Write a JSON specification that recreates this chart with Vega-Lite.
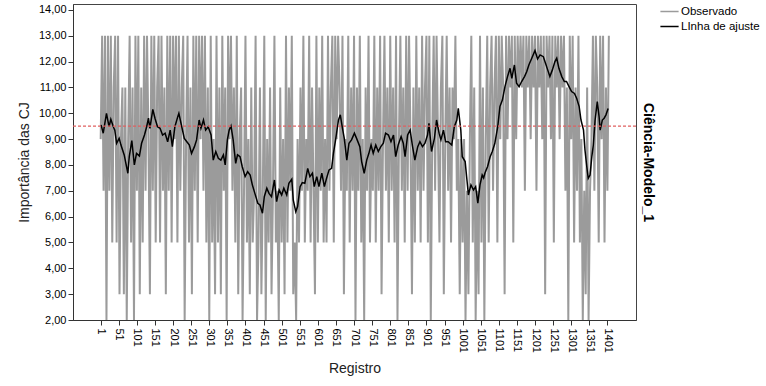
{
  "$schema": "https://vega.github.io/schema/vega-lite/v6.json",
  "width": 563,
  "height": 316,
  "autosize": {"type": "none"},
  "padding": {"left": 73, "top": 4, "right": 130, "bottom": 66},
  "background": "white",
  "config": {
    "font": "Liberation Sans",
    "view": {"stroke": "#444444", "strokeWidth": 1},
    "axis": {"labelFont": "Liberation Sans", "labelFontSize": 11, "labelColor": "#000000", "tickColor": "#333333", "domainColor": "#333333", "tickSize": 5, "grid": false, "labelOverlap": false, "titleFont": "Liberation Sans", "titleFontWeight": "normal", "titleFontSize": 14, "titleColor": "#222222"},
    "legend": {"labelFont": "Liberation Sans", "labelFontSize": 11.5, "labelColor": "#000000"}
  },
  "datasets": {
    "obs": [
      {"r":1,"v":9},{"r":5,"v":13},{"r":9,"v":7},{"r":13,"v":13},{"r":17,"v":2},{"r":21,"v":13},{"r":25,"v":7},{"r":29,"v":13},{"r":33,"v":5},{"r":37,"v":11},
      {"r":41,"v":13},{"r":45,"v":5},{"r":49,"v":13},{"r":53,"v":3},{"r":57,"v":9},{"r":61,"v":11},{"r":65,"v":3},{"r":69,"v":11},{"r":73,"v":2},{"r":77,"v":9},
      {"r":81,"v":13},{"r":85,"v":5},{"r":89,"v":11},{"r":93,"v":2},{"r":97,"v":13},{"r":101,"v":7},{"r":105,"v":13},{"r":109,"v":3},{"r":113,"v":11},{"r":117,"v":5},
      {"r":121,"v":13},{"r":125,"v":7},{"r":129,"v":13},{"r":133,"v":9},{"r":137,"v":3},{"r":141,"v":13},{"r":145,"v":7},{"r":149,"v":13},{"r":153,"v":5},{"r":157,"v":11},
      {"r":161,"v":13},{"r":165,"v":5},{"r":169,"v":13},{"r":173,"v":7},{"r":177,"v":11},{"r":181,"v":3},{"r":185,"v":13},{"r":189,"v":7},{"r":193,"v":13},{"r":197,"v":5},
      {"r":201,"v":13},{"r":205,"v":9},{"r":209,"v":13},{"r":213,"v":5},{"r":217,"v":13},{"r":221,"v":7},{"r":225,"v":11},{"r":229,"v":13},{"r":233,"v":2},{"r":237,"v":9},
      {"r":241,"v":13},{"r":245,"v":5},{"r":249,"v":11},{"r":253,"v":3},{"r":257,"v":13},{"r":261,"v":7},{"r":265,"v":13},{"r":269,"v":5},{"r":273,"v":13},{"r":277,"v":9},
      {"r":281,"v":13},{"r":285,"v":7},{"r":289,"v":13},{"r":293,"v":5},{"r":297,"v":11},{"r":301,"v":2},{"r":305,"v":13},{"r":309,"v":5},{"r":313,"v":9},{"r":317,"v":3},
      {"r":321,"v":13},{"r":325,"v":5},{"r":329,"v":11},{"r":333,"v":3},{"r":337,"v":13},{"r":341,"v":7},{"r":345,"v":11},{"r":349,"v":2},{"r":353,"v":13},{"r":357,"v":9},
      {"r":361,"v":13},{"r":365,"v":7},{"r":369,"v":11},{"r":373,"v":5},{"r":377,"v":13},{"r":381,"v":3},{"r":385,"v":9},{"r":389,"v":11},{"r":393,"v":2},{"r":397,"v":7},
      {"r":401,"v":13},{"r":405,"v":5},{"r":409,"v":9},{"r":413,"v":3},{"r":417,"v":11},{"r":421,"v":5},{"r":425,"v":7},{"r":429,"v":13},{"r":433,"v":2},{"r":437,"v":5},
      {"r":441,"v":11},{"r":445,"v":3},{"r":449,"v":7},{"r":453,"v":13},{"r":457,"v":2},{"r":461,"v":9},{"r":465,"v":5},{"r":469,"v":11},{"r":473,"v":3},{"r":477,"v":7},
      {"r":481,"v":13},{"r":485,"v":5},{"r":489,"v":7},{"r":493,"v":2},{"r":497,"v":11},{"r":501,"v":5},{"r":505,"v":9},{"r":509,"v":3},{"r":513,"v":13},{"r":517,"v":5},
      {"r":521,"v":11},{"r":525,"v":7},{"r":529,"v":13},{"r":533,"v":3},{"r":537,"v":5},{"r":541,"v":2},{"r":545,"v":9},{"r":549,"v":5},{"r":553,"v":11},{"r":557,"v":7},
      {"r":561,"v":13},{"r":565,"v":5},{"r":569,"v":9},{"r":573,"v":7},{"r":577,"v":13},{"r":581,"v":5},{"r":585,"v":11},{"r":589,"v":7},{"r":593,"v":3},{"r":597,"v":13},
      {"r":601,"v":5},{"r":605,"v":11},{"r":609,"v":7},{"r":613,"v":13},{"r":617,"v":5},{"r":621,"v":9},{"r":625,"v":5},{"r":629,"v":13},{"r":633,"v":7},{"r":637,"v":11},
      {"r":641,"v":13},{"r":645,"v":5},{"r":649,"v":13},{"r":653,"v":9},{"r":657,"v":13},{"r":661,"v":11},{"r":665,"v":7},{"r":669,"v":13},{"r":673,"v":3},{"r":677,"v":9},
      {"r":681,"v":7},{"r":685,"v":13},{"r":689,"v":5},{"r":693,"v":11},{"r":697,"v":7},{"r":701,"v":13},{"r":705,"v":2},{"r":709,"v":11},{"r":713,"v":7},{"r":717,"v":13},
      {"r":721,"v":5},{"r":725,"v":9},{"r":729,"v":2},{"r":733,"v":11},{"r":737,"v":7},{"r":741,"v":13},{"r":745,"v":5},{"r":749,"v":9},{"r":753,"v":7},{"r":757,"v":13},
      {"r":761,"v":5},{"r":765,"v":11},{"r":769,"v":7},{"r":773,"v":13},{"r":777,"v":3},{"r":781,"v":9},{"r":785,"v":13},{"r":789,"v":7},{"r":793,"v":11},{"r":797,"v":5},
      {"r":801,"v":13},{"r":805,"v":7},{"r":809,"v":11},{"r":813,"v":5},{"r":817,"v":13},{"r":821,"v":2},{"r":825,"v":9},{"r":829,"v":13},{"r":833,"v":7},{"r":837,"v":11},
      {"r":841,"v":5},{"r":845,"v":13},{"r":849,"v":7},{"r":853,"v":13},{"r":857,"v":9},{"r":861,"v":3},{"r":865,"v":11},{"r":869,"v":5},{"r":873,"v":13},{"r":877,"v":7},
      {"r":881,"v":11},{"r":885,"v":5},{"r":889,"v":13},{"r":893,"v":7},{"r":897,"v":11},{"r":901,"v":13},{"r":905,"v":5},{"r":909,"v":13},{"r":913,"v":2},{"r":917,"v":9},
      {"r":921,"v":13},{"r":925,"v":7},{"r":929,"v":13},{"r":933,"v":9},{"r":937,"v":5},{"r":941,"v":11},{"r":945,"v":13},{"r":949,"v":3},{"r":953,"v":9},{"r":957,"v":13},
      {"r":961,"v":7},{"r":965,"v":11},{"r":969,"v":5},{"r":973,"v":11},{"r":977,"v":9},{"r":981,"v":13},{"r":985,"v":7},{"r":989,"v":9},{"r":993,"v":3},{"r":997,"v":9},
      {"r":1001,"v":5},{"r":1005,"v":9},{"r":1009,"v":2},{"r":1013,"v":7},{"r":1017,"v":3},{"r":1021,"v":9},{"r":1025,"v":13},{"r":1029,"v":5},{"r":1033,"v":11},{"r":1037,"v":2},
      {"r":1041,"v":7},{"r":1045,"v":3},{"r":1049,"v":13},{"r":1053,"v":5},{"r":1057,"v":11},{"r":1061,"v":2},{"r":1065,"v":9},{"r":1069,"v":13},{"r":1073,"v":5},{"r":1077,"v":11},
      {"r":1081,"v":13},{"r":1085,"v":7},{"r":1089,"v":11},{"r":1093,"v":13},{"r":1097,"v":5},{"r":1101,"v":13},{"r":1105,"v":9},{"r":1109,"v":13},{"r":1113,"v":11},{"r":1117,"v":3},
      {"r":1121,"v":13},{"r":1125,"v":9},{"r":1129,"v":13},{"r":1133,"v":11},{"r":1137,"v":13},{"r":1141,"v":5},{"r":1145,"v":13},{"r":1149,"v":9},{"r":1153,"v":13},{"r":1157,"v":11},
      {"r":1161,"v":13},{"r":1165,"v":11},{"r":1169,"v":13},{"r":1173,"v":7},{"r":1177,"v":13},{"r":1181,"v":11},{"r":1185,"v":13},{"r":1189,"v":9},{"r":1193,"v":13},{"r":1197,"v":11},
      {"r":1201,"v":13},{"r":1205,"v":7},{"r":1209,"v":13},{"r":1213,"v":11},{"r":1217,"v":13},{"r":1221,"v":9},{"r":1225,"v":13},{"r":1229,"v":3},{"r":1233,"v":13},{"r":1237,"v":11},
      {"r":1241,"v":13},{"r":1245,"v":9},{"r":1249,"v":13},{"r":1253,"v":5},{"r":1257,"v":13},{"r":1261,"v":11},{"r":1265,"v":13},{"r":1269,"v":9},{"r":1273,"v":13},{"r":1277,"v":11},
      {"r":1281,"v":13},{"r":1285,"v":7},{"r":1289,"v":11},{"r":1293,"v":2},{"r":1297,"v":13},{"r":1301,"v":9},{"r":1305,"v":13},{"r":1309,"v":5},{"r":1313,"v":11},{"r":1317,"v":7},
      {"r":1321,"v":13},{"r":1325,"v":5},{"r":1329,"v":9},{"r":1333,"v":2},{"r":1337,"v":7},{"r":1341,"v":3},{"r":1345,"v":11},{"r":1349,"v":2},{"r":1353,"v":7},{"r":1357,"v":9},
      {"r":1361,"v":13},{"r":1365,"v":7},{"r":1369,"v":13},{"r":1373,"v":11},{"r":1377,"v":5},{"r":1381,"v":13},{"r":1385,"v":9},{"r":1389,"v":13},{"r":1393,"v":5},{"r":1397,"v":11},{"r":1401,"v":7},{"r":1405,"v":13}
    ],
    "fit": [
      {"r":2,"v":9.55},{"r":8,"v":9.23},{"r":17,"v":10.0},{"r":24,"v":9.48},{"r":29,"v":9.77},{"r":36,"v":9.48},{"r":40,"v":9.35},{"r":45,"v":8.84},{"r":52,"v":9.03},{"r":57,"v":8.77},
      {"r":66,"v":8.39},{"r":76,"v":7.68},{"r":80,"v":8.32},{"r":87,"v":8.94},{"r":94,"v":8.0},{"r":100,"v":8.45},{"r":108,"v":8.35},{"r":114,"v":8.84},{"r":122,"v":9.16},{"r":128,"v":9.48},
      {"r":133,"v":9.81},{"r":137,"v":9.42},{"r":145,"v":10.15},{"r":151,"v":9.81},{"r":158,"v":9.48},{"r":165,"v":9.42},{"r":172,"v":9.16},{"r":179,"v":9.23},{"r":186,"v":8.9},{"r":193,"v":9.35},
      {"r":199,"v":8.71},{"r":206,"v":9.48},{"r":214,"v":9.87},{"r":217,"v":10.0},{"r":225,"v":9.48},{"r":232,"v":9.03},{"r":239,"v":8.9},{"r":246,"v":8.77},{"r":252,"v":8.45},{"r":260,"v":8.71},
      {"r":266,"v":8.97},{"r":273,"v":9.74},{"r":278,"v":9.42},{"r":285,"v":9.74},{"r":291,"v":9.35},{"r":298,"v":9.48},{"r":306,"v":9.16},{"r":312,"v":8.19},{"r":319,"v":8.52},{"r":326,"v":8.26},
      {"r":333,"v":8.19},{"r":340,"v":8.39},{"r":345,"v":8.0},{"r":351,"v":8.97},{"r":356,"v":9.35},{"r":361,"v":9.51},{"r":367,"v":8.97},{"r":374,"v":8.06},{"r":379,"v":8.39},{"r":386,"v":8.32},
      {"r":392,"v":7.94},{"r":400,"v":7.55},{"r":407,"v":7.74},{"r":414,"v":7.61},{"r":420,"v":7.23},{"r":427,"v":6.9},{"r":435,"v":6.52},{"r":441,"v":6.45},{"r":448,"v":6.13},{"r":453,"v":6.77},
      {"r":460,"v":7.1},{"r":466,"v":6.9},{"r":473,"v":6.77},{"r":481,"v":7.42},{"r":487,"v":6.58},{"r":494,"v":7.03},{"r":501,"v":6.84},{"r":507,"v":7.1},{"r":515,"v":6.84},{"r":521,"v":7.29},
      {"r":529,"v":7.45},{"r":533,"v":6.65},{"r":540,"v":6.19},{"r":545,"v":6.39},{"r":552,"v":7.16},{"r":558,"v":7.32},{"r":565,"v":7.29},{"r":573,"v":7.87},{"r":579,"v":7.55},{"r":586,"v":7.68},
      {"r":591,"v":7.16},{"r":598,"v":7.55},{"r":604,"v":7.16},{"r":612,"v":7.68},{"r":619,"v":7.16},{"r":625,"v":7.48},{"r":632,"v":7.81},{"r":639,"v":7.87},{"r":644,"v":8.45},{"r":650,"v":8.97},
      {"r":658,"v":9.74},{"r":663,"v":9.94},{"r":669,"v":9.42},{"r":674,"v":9.03},{"r":681,"v":8.19},{"r":687,"v":8.84},{"r":694,"v":8.97},{"r":702,"v":9.23},{"r":708,"v":9.03},{"r":717,"v":8.71},
      {"r":722,"v":8.13},{"r":729,"v":7.68},{"r":736,"v":8.19},{"r":742,"v":8.45},{"r":748,"v":8.77},{"r":754,"v":8.45},{"r":761,"v":8.77},{"r":768,"v":8.52},{"r":775,"v":8.71},{"r":782,"v":8.84},
      {"r":788,"v":9.23},{"r":796,"v":9.16},{"r":803,"v":8.9},{"r":810,"v":9.16},{"r":816,"v":8.32},{"r":823,"v":8.77},{"r":831,"v":9.1},{"r":837,"v":8.84},{"r":842,"v":8.32},{"r":849,"v":9.16},
      {"r":856,"v":9.35},{"r":862,"v":8.77},{"r":869,"v":8.19},{"r":877,"v":8.71},{"r":883,"v":8.9},{"r":890,"v":8.71},{"r":897,"v":8.84},{"r":904,"v":9.16},{"r":908,"v":9.61},{"r":915,"v":8.52},
      {"r":923,"v":9.03},{"r":929,"v":9.74},{"r":936,"v":9.23},{"r":941,"v":8.97},{"r":948,"v":9.35},{"r":954,"v":8.9},{"r":961,"v":8.9},{"r":971,"v":8.77},{"r":978,"v":9.48},{"r":985,"v":9.74},
      {"r":989,"v":10.19},{"r":996,"v":9.35},{"r":1000,"v":8.32},{"r":1008,"v":8.13},{"r":1012,"v":7.55},{"r":1017,"v":6.84},{"r":1024,"v":7.23},{"r":1031,"v":7.03},{"r":1037,"v":7.16},{"r":1043,"v":6.52},
      {"r":1049,"v":7.23},{"r":1055,"v":7.61},{"r":1059,"v":7.5},{"r":1063,"v":7.7},{"r":1070,"v":7.94},{"r":1077,"v":8.32},{"r":1083,"v":8.52},{"r":1090,"v":8.84},{"r":1098,"v":9.48},{"r":1104,"v":10.26},
      {"r":1111,"v":10.52},{"r":1118,"v":11.03},{"r":1125,"v":11.42},{"r":1132,"v":11.74},{"r":1137,"v":11.35},{"r":1144,"v":11.87},{"r":1150,"v":11.16},{"r":1157,"v":11.03},{"r":1164,"v":11.23},{"r":1172,"v":11.42},
      {"r":1178,"v":11.61},{"r":1184,"v":11.87},{"r":1192,"v":12.13},{"r":1201,"v":12.43},{"r":1208,"v":12.1},{"r":1215,"v":12.26},{"r":1224,"v":12.19},{"r":1230,"v":11.94},{"r":1236,"v":11.68},{"r":1242,"v":11.42},
      {"r":1249,"v":11.68},{"r":1256,"v":12.0},{"r":1261,"v":12.13},{"r":1267,"v":11.74},{"r":1275,"v":11.42},{"r":1282,"v":11.23},{"r":1288,"v":11.23},{"r":1295,"v":11.03},{"r":1302,"v":10.84},{"r":1310,"v":10.77},
      {"r":1316,"v":10.58},{"r":1323,"v":10.26},{"r":1328,"v":9.74},{"r":1335,"v":9.35},{"r":1339,"v":8.58},{"r":1344,"v":7.94},{"r":1348,"v":7.48},{"r":1353,"v":7.61},{"r":1358,"v":8.32},{"r":1362,"v":8.77},
      {"r":1367,"v":9.74},{"r":1373,"v":10.45},{"r":1378,"v":9.87},{"r":1381,"v":9.35},{"r":1387,"v":9.74},{"r":1392,"v":9.81},{"r":1397,"v":9.94},{"r":1403,"v":10.19}
    ],
    "ref": [{"v": 9.5}]
  },
  "layer": [
    {
      "encoding": {
        "x": {"field": "r", "type": "quantitative", "scale": {"domain": [-75.5, 1480], "nice": false, "zero": false},
              "axis": {"title": "Registro", "values": [1,51,101,151,201,251,301,351,401,451,501,551,601,651,701,751,801,851,901,951,1001,1051,1101,1151,1201,1251,1301,1351,1401], "format": "d", "labelAngle": 90, "labelAlign": "left", "labelBaseline": "middle", "labelPadding": 3, "titlePadding": 9, "labelOverlap": false, "labelSeparation": 0, "labelBound": false, "labelFlush": false}},
        "y": {"field": "v", "type": "quantitative", "scale": {"domain": [2, 14.23], "nice": false, "zero": false},
              "axis": {"title": "Importância das CJ", "values": [2,3,4,5,6,7,8,9,10,11,12,13,14], "labelExpr": "replace(format(datum.value, '.2f'), '.', ',')", "titlePadding": 7, "labelPadding": 2}}
      },
      "layer": [
        {
          "data": {"name": "obs"},
          "mark": {"type": "line", "strokeWidth": 2, "clip": true},
          "encoding": {
            "color": {"datum": "Observado", "type": "nominal", "scale": {"domain": ["Observado", "LInha de ajuste"], "range": ["#9b9b9b", "#000000"]},
                      "legend": {"title": null, "orient": "none", "legendX": 589, "legendY": 0, "padding": 0, "symbolType": "M-1.4,0H1.4", "symbolSize": 169, "symbolStrokeWidth": 1.5, "labelOffset": 4, "rowPadding": 2}}
          }
        },
        {
          "data": {"name": "fit"},
          "mark": {"type": "line", "strokeWidth": 1.5},
          "encoding": {
            "color": {"datum": "LInha de ajuste", "type": "nominal"}
          }
        }
      ]
    },
    {
      "data": {"name": "ref"},
      "mark": {"type": "rule", "color": "#e06060", "strokeWidth": 1.3, "strokeDash": [3, 2]},
      "encoding": {
        "y": {"field": "v", "type": "quantitative", "scale": {"domain": [2, 14.23], "nice": false, "zero": false},
              "axis": {"orient": "right", "title": "Ciência-Modelo_1", "titleAngle": 90, "titleFontWeight": "bold", "titleFontSize": 14, "titleColor": "#000000", "labels": false, "ticks": false, "domain": false, "titlePadding": 4}}
      }
    }
  ],
  "resolve": {"scale": {"y": "independent"}}
}
